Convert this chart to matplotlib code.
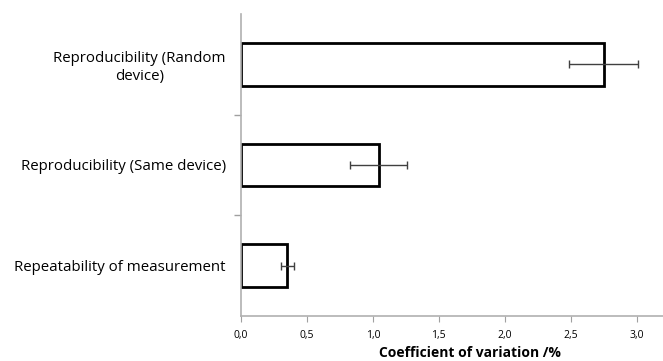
import matplotlib.pyplot as plt
from matplotlib.ticker import FuncFormatter, FixedLocator

# Data (bottom to top)
categories = ['Repeatability of measurement',
              'Reproducibility (Same device)',
              'Reproducibility (Random\ndevice)']
cv_values = [0.35, 1.045, 2.75]
cv_errors = [0.05, 0.215, 0.26]

plt.rcParams['font.family'] = ['Open Sans', 'DejaVu Sans']

fig = plt.figure(figsize=(6.63, 3.61), dpi=100)
ax = fig.add_axes([0.3635, 0.125, 0.6365, 0.836])

ypos = range(len(categories))
ax.barh(ypos, cv_values, height=0.42, color='white', edgecolor='black', linewidth=2.0,
        xerr=cv_errors, error_kw=dict(ecolor='#404040', elinewidth=1.0, capsize=3, capthick=1.0))

ax.set_xlim(0, 3.2)
ax.set_ylim(-0.5, 2.5)
ax.set_xticks([0, 0.5, 1.0, 1.5, 2.0, 2.5, 3.0])
ax.xaxis.set_major_formatter(FuncFormatter(lambda v, p: f'{v:.1f}'.replace('.', ',')))
ax.set_yticks(list(ypos))
ax.set_yticklabels(categories, multialignment='center', fontsize=10.8)
ax.tick_params(axis='y', length=0, pad=11)
# category separator ticks
ax.yaxis.set_minor_locator(FixedLocator([0.5, 1.5]))
ax.tick_params(axis='y', which='minor', length=5, color='#a0a0a0', width=1)
ax.tick_params(axis='x', length=4, color='#a0a0a0', labelsize=7.5, pad=6)

for s in ['top', 'right']:
    ax.spines[s].set_visible(False)
for s in ['left', 'bottom']:
    ax.spines[s].set_color('#b0b0b0')
    ax.spines[s].set_linewidth(1.2)

ax.set_xlabel('Coefficient of variation /%', fontweight='bold', fontsize=10)
ax.xaxis.set_label_coords(0.543, -0.1)

fig.savefig('out.png', dpi=100)
